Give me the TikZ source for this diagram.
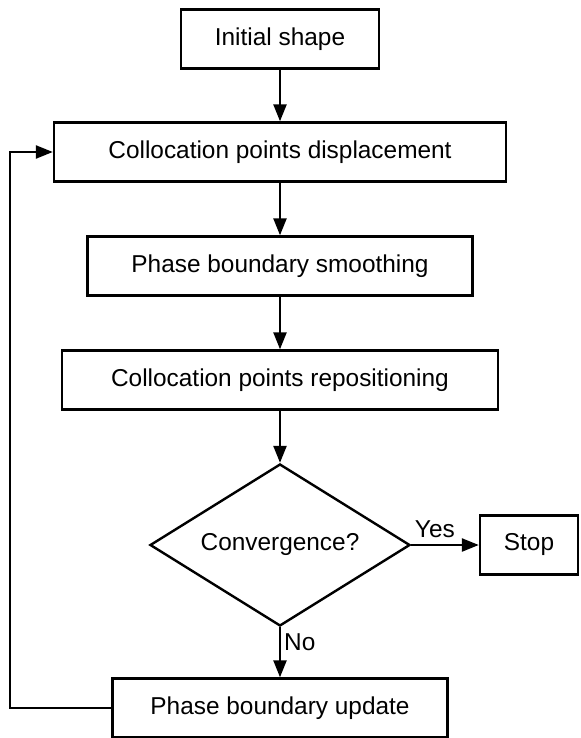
\documentclass[tikz,border=0pt]{standalone}
\usepackage{fontspec}
\setmainfont{Liberation Sans}
\usetikzlibrary{positioning, shapes.geometric, arrows.meta}
\tikzset{
  % plain process step
  procbox/.style={draw, line width=1.2pt, inner sep=0pt,
                  minimum width=#1, minimum height=29.5pt},
  % yes/no test
  decision/.style={diamond, draw, line width=1.2pt, inner sep=0pt, aspect=1.6,
                   minimum width=130pt, minimum height=81pt},
  % connector with filled head
  flow/.style={line width=1.2pt, -{Triangle[length=8.5pt, width=6.5pt]}},
  every node/.append style={font=\fontsize{12.2}{14.6}\selectfont},
}

\begin{document}
\begin{tikzpicture}
  \useasboundingbox (0,0) rectangle (290pt,-369pt);
  \begin{scope}[x=1pt, y=1pt]
    \node[procbox=99pt]    (init)   at (140,-19.5)   {Initial shape};
    \node[procbox=226pt]   (disp)   at (140,-76)     {Collocation points displacement};
    \node[procbox=192.5pt] (smooth) at (140,-133)    {Phase boundary smoothing};
    \node[procbox=218pt]   (repos)  at (140,-190)    {Collocation points repositioning};
    \node[decision]        (conv)   at (140,-272.5)  {Convergence?};
    \node[procbox=49pt]    (stop)   at (264.5,-272.5) {Stop};
    \node[procbox=167.5pt] (update) at (140,-354)    {Phase boundary update};
    \coordinate (back) at (5,-354);

    \draw[flow] (init) -- (disp);
    \draw[flow] (disp) -- (smooth);
    \draw[flow] (smooth) -- (repos);
    \draw[flow] (repos) -- (conv);
    \draw[flow] (conv.east) -- node[above, pos=0.35, inner sep=3pt] {Yes} (stop);
    \draw[flow] (conv.south) -- node[right, pos=0.3, inner sep=1.5pt] {No} (update);
    % loop back for the next iteration
    \draw[flow] (update.west) -- (back) |- (disp.west);
  \end{scope}
\end{tikzpicture}
\end{document}
